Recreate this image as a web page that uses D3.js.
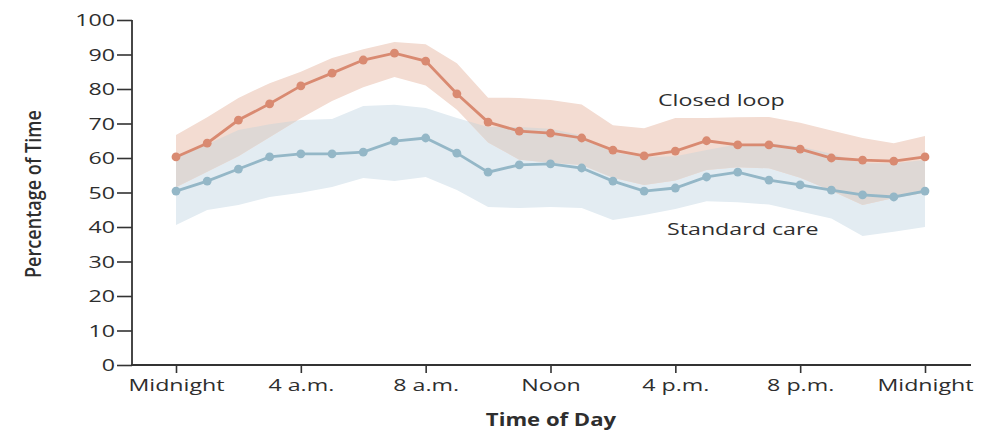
<!DOCTYPE html>
<html>
<head>
<meta charset="utf-8">
<script src="https://cdn.jsdelivr.net/npm/d3@7"></script>
<style>
  html, body { margin: 0; padding: 0; background: #ffffff; }
  svg { display: block; }
  text { font-family: "Open Sans", sans-serif; fill: #2e2e2e; }
</style>
</head>
<body>
<svg id="chart" width="984" height="430"></svg>
<script>
// ---- data (hour of day, 0..24) ----
const hours = [0,1,2,3,4,5,6,7,8,9,10,11,12,13,14,15,16,17,18,19,20,21,22,23,24];
const closedLoop      = [60.3,64.3,71.0,75.7,80.9,84.6,88.4,90.4,88.1,78.6,70.4,67.8,67.2,65.8,62.3,60.6,62.0,65.0,63.8,63.8,62.6,60.0,59.4,59.1,60.3];
const closedLoopUpper = [66.7,71.8,77.4,81.7,85.0,89.0,91.5,93.6,93.0,87.5,77.5,77.4,76.8,75.5,69.5,68.6,71.6,71.6,71.8,71.9,70.2,68.0,65.8,64.3,66.4];
const closedLoopLower = [51.5,56.0,60.5,66.0,71.5,76.5,80.5,83.5,81.0,74.0,64.5,59.5,58.6,58.0,54.3,52.2,53.5,56.5,57.3,57.0,54.3,50.5,46.4,48.4,49.9];
const standardCare      = [50.4,53.3,56.8,60.3,61.2,61.2,61.7,64.9,65.8,61.4,55.9,58.0,58.3,57.1,53.3,50.4,51.3,54.5,55.9,53.6,52.2,50.7,49.3,48.7,50.4];
const standardCareUpper = [60.0,64.0,68.1,69.8,71.0,71.3,75.1,75.4,74.5,71.6,69.0,69.0,68.5,66.5,61.6,60.3,60.5,62.3,64.0,64.3,63.3,61.2,58.5,58.5,59.4];
const standardCareLower = [40.6,44.9,46.4,48.7,49.9,51.6,54.2,53.3,54.5,50.7,45.8,45.5,45.8,45.5,42.0,43.5,45.2,47.5,47.2,46.5,44.5,42.5,37.4,38.6,40.0];
const xTickValues = [0,4,8,12,16,20,24];
const xTickLabels = ["Midnight","4 a.m.","8 a.m.","Noon","4 p.m.","8 p.m.","Midnight"];
const yTickValues = [0,10,20,30,40,50,60,70,80,90,100];
const seriesNames = ["Closed loop","Standard care"];

// ---- layout ----
const svg = d3.select("#chart");
const axisLeftX = 132, axisRightX = 971;
const x = d3.scaleLinear().domain([0,24]).range([176,925]);
const y = d3.scaleLinear().domain([0,100]).range([365,20]);

const cl = hours.map((h,i)=>({h, v: closedLoop[i], lo: closedLoopLower[i], hi: closedLoopUpper[i]}));
const sc = hours.map((h,i)=>({h, v: standardCare[i], lo: standardCareLower[i], hi: standardCareUpper[i]}));

const area = d3.area().x(d=>x(d.h)).y0(d=>y(d.lo)).y1(d=>y(d.hi));
const line = d3.line().x(d=>x(d.h)).y(d=>y(d.v));

// stretch helper: widen text horizontally
function stretch(sel, f) {
  sel.each(function(){
    const w = this.getComputedTextLength();
    d3.select(this).attr("textLength", w*f).attr("lengthAdjust","spacingAndGlyphs");
  });
}

// bands
const defs = svg.append("defs");
defs.append("clipPath").attr("id","scClip").append("path").attr("d", area(sc));
svg.append("path").attr("d", area(sc)).attr("fill","#e3ecf2");
svg.append("path").attr("d", area(cl)).attr("fill","#f3dcd2");
svg.append("path").attr("d", area(cl)).attr("fill","#ded8d5").attr("clip-path","url(#scClip)");

// lines
svg.append("path").attr("d", line(sc)).attr("fill","none").attr("stroke","#94b7c7").attr("stroke-width",2.8);
svg.append("path").attr("d", line(cl)).attr("fill","none").attr("stroke","#d98a71").attr("stroke-width",2.8);
svg.selectAll("circle.sc").data(sc).enter().append("circle").attr("class","sc")
  .attr("cx", d=>x(d.h)).attr("cy", d=>y(d.v)).attr("r",4.4).attr("fill","#94b7c7");
svg.selectAll("circle.cl").data(cl).enter().append("circle").attr("class","cl")
  .attr("cx", d=>x(d.h)).attr("cy", d=>y(d.v)).attr("r",4.4).attr("fill","#d98a71");

// y axis
const yAxis = svg.append("g").attr("transform",`translate(${axisLeftX},0)`)
  .call(d3.axisLeft(y).tickValues(yTickValues).tickSize(15).tickPadding(2));
yAxis.select(".domain").remove();
yAxis.selectAll(".tick line").attr("stroke","#333").attr("stroke-width",1.6);
yAxis.selectAll(".tick text").attr("font-size",16).attr("fill","#333").attr("font-family","Open Sans").attr("dy","0.36em");
stretch(yAxis.selectAll(".tick text"), 1.45);
svg.append("line").attr("x1",axisLeftX).attr("x2",axisLeftX).attr("y1",y(100)).attr("y2",y(0))
  .attr("stroke","#333").attr("stroke-width",1.8);

// x axis
const xAxis = svg.append("g").attr("transform",`translate(0,${y(0)})`)
  .call(d3.axisBottom(x).tickValues(xTickValues).tickFormat((d,i)=>xTickLabels[i]).tickSize(8).tickPadding(7));
xAxis.select(".domain").remove();
xAxis.selectAll(".tick line").attr("stroke","#333").attr("stroke-width",1.6);
xAxis.selectAll(".tick text").attr("font-size",16).attr("fill","#333").attr("font-family","Open Sans");
stretch(xAxis.selectAll(".tick text"), 1.45);
svg.append("line").attr("x1",axisLeftX-1).attr("x2",axisRightX).attr("y1",y(0)).attr("y2",y(0))
  .attr("stroke","#333").attr("stroke-width",1.8);

// axis titles
const xt = svg.append("text").attr("x",551).attr("y",426).attr("text-anchor","middle")
  .attr("font-size",17).attr("font-weight",700).attr("fill","#222").text("Time of Day");
stretch(xt, 1.3);
const yt = svg.append("text").attr("transform","translate(41,194) rotate(-90)").attr("text-anchor","middle")
  .attr("font-size",21).attr("font-weight",600).attr("fill","#222").text("Percentage of Time");
yt.attr("textLength",168).attr("lengthAdjust","spacingAndGlyphs");

// series labels
const l1 = svg.append("text").attr("x",658).attr("y",106).attr("font-size",16).attr("fill","#333").text(seriesNames[0]);
stretch(l1, 1.45);
const l2 = svg.append("text").attr("x",667).attr("y",235).attr("font-size",16).attr("fill","#333").text(seriesNames[1]);
stretch(l2, 1.45);
</script>
</body>
</html>
